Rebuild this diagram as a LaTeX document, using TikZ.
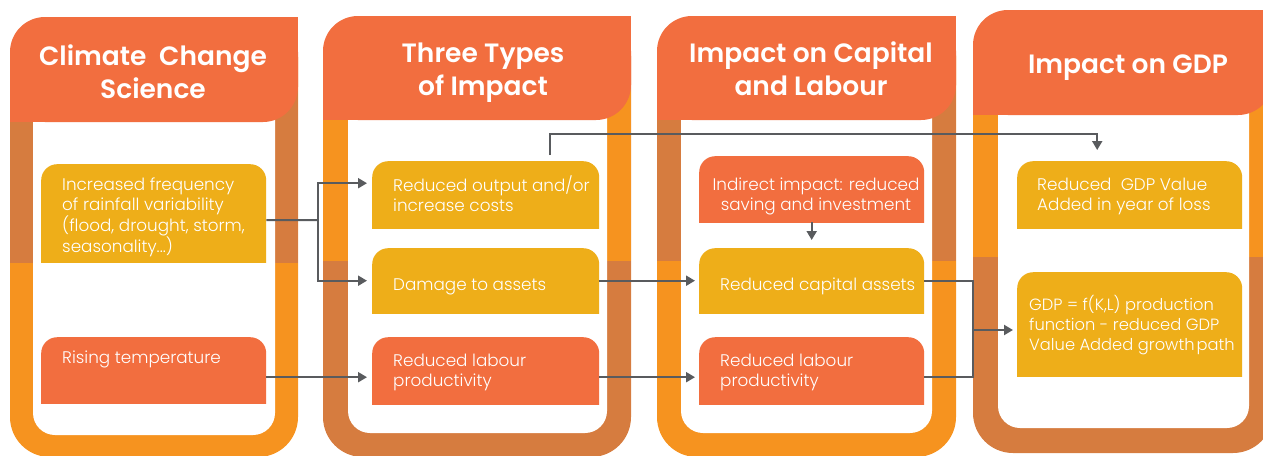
\documentclass[tikz,border=0pt]{standalone}
\usepackage{fontspec}
\setmainfont{Poppins}
\newfontfamily\bodyfont{Poppins Light}
\newfontfamily\headfont{Poppins SemiBold}
\usetikzlibrary{arrows.meta}
\definecolor{hdr}{HTML}{F26E3F}
\definecolor{fdark}{HTML}{D67C3F}
\definecolor{forange}{HTML}{F6931F}
\definecolor{byel}{HTML}{EEAE19}
\definecolor{lgray}{HTML}{595B5E}
\newcommand\tl{\rule{0pt}{15pt}}
\newcommand\hl{\rule{0pt}{25pt}}
\tikzset{
  boxy/.style={rectangle, inner sep=0pt, anchor=north west,
    path picture={\fill[#1, rounded corners=16pt] (path picture bounding box.north west) rectangle ([yshift=-20pt]path picture bounding box.south east);}},
  txt/.style={anchor=north west, inner sep=0pt, align=left, text=white,
    font=\bodyfont\fontsize{16.8}{20}\selectfont},
  htxt/.style={anchor=north, inner sep=0pt, align=center, text=white,
    font=\headfont\fontsize{26.5}{33}\selectfont},
  conn/.style={draw=lgray, line width=2pt},
  arr/.style={conn, -{Triangle[length=9pt,width=10pt]}}
}
\begin{document}
\begin{tikzpicture}[x=1pt,y=-1pt]
\useasboundingbox (0,0) rectangle (1263,455);
\clip (0,0) rectangle (1263,455);
% panels
\foreach \L/\R/\iL/\iR/\T/\HB/\IB/\OB/\S/\ct/\cb in {
  10/298/33/275/17/122/435/457/263/fdark/forange,
  323/631/348/607/16/120/433/457/261/forange/fdark,
  657/956/681/932/16/120/433/457/261/fdark/forange,
  973/1273/998/1249/10/115/428/453/257/forange/fdark}{
  \fill[\cb, rounded corners=40pt] (\L,\T) rectangle (\R,\OB);
  \fill[\ct] (\L,\T+40) rectangle (\R,\S);
  \fill[white, rounded corners=22pt] (\iL,\HB-30) rectangle (\iR,\IB);
  \fill[hdr, rounded corners=35pt] (\L,\T) rectangle (\R,\HB);
  \fill[hdr] (\R-40,\T) rectangle (\R,\T+40);
  \fill[hdr] (\L,\HB-40) rectangle (\L+40,\HB);
}
% headers
\node[htxt] (h1) at (153,40) {\hl Climate\ \ Change\\Science};
\node[htxt] (h2) at (483,37) {\hl Three Types\\of Impact};
\node[htxt] (h3) at (811,37) {\hl Impact on Capital\\and Labour};
\node[htxt] (h4) at (1128,48) {\hl Impact on GDP};
% boxes
\node[boxy=byel, minimum width=225pt, minimum height=98pt] (p1b1) at (41,164) {};
\node[boxy=hdr,  minimum width=225pt, minimum height=66pt] (p1b2) at (41,337) {};
\node[boxy=byel, minimum width=227pt, minimum height=67pt] (p2b1) at (372,161) {};
\node[boxy=byel, minimum width=227pt, minimum height=65pt] (p2b2) at (372,248) {};
\node[boxy=hdr,  minimum width=227pt, minimum height=67pt] (p2b3) at (372,337) {};
\node[boxy=hdr,  minimum width=225pt, minimum height=66pt] (p3b1) at (699,156) {};
\node[boxy=byel, minimum width=225pt, minimum height=65pt] (p3b2) at (699,248) {};
\node[boxy=hdr,  minimum width=225pt, minimum height=67pt] (p3b3) at (699,337) {};
\node[boxy=byel, minimum width=225pt, minimum height=67pt] (p4b1) at (1017,161) {};
\node[boxy=byel, minimum width=225pt, minimum height=104pt] (p4b2) at (1017,272) {};
% texts
\node[txt] (t11) at (62,175) {\tl Increased frequency\\of rainfall variability\\(flood, drought, storm,\\seasonality...)};
\node[txt] (t12) at (62,348) {\tl Rising temperature};
\node[txt] (t21) at (393,176) {\tl Reduced output and/or\\increase costs};
\node[txt] (t22) at (393,275) {\tl Damage to assets};
\node[txt] (t23) at (393,351) {\tl Reduced labour\\productivity};
\node[txt, anchor=north, align=center] (t31) at (816,175) {\tl Indirect impact: reduced\\saving and investment};
\node[txt] (t32) at (720,275) {\tl Reduced capital assets};
\node[txt] (t33) at (720,351) {\tl Reduced labour\\productivity};
\node[txt] (t41) at (1037,175) {\tl Reduced\ \ GDP Value\\Added in year of loss};
\node[txt, font=\bodyfont\fontsize{16.3}{20}\selectfont] (t42) at (1029,295) {\tl GDP = f(K,L) production\\function - reduced GDP\\Value Added growth\hspace{2pt}path};
% connectors
\coordinate (j1) at (318,220);
\draw[conn] ([yshift=-7pt]p1b1.east) -- (j1);
\draw[arr, shorten >=5pt] (j1) |- ([yshift=11.5pt]p2b1.west);
\draw[arr, shorten >=5pt] (j1) |- (p2b2.west);
\draw[arr, shorten >=5pt] ([yshift=-7pt]p1b2.east) -- ([yshift=-6.5pt]p2b3.west);
\draw[arr, shorten >=4pt] (p2b2.east) -- (p3b2.west);
\draw[arr, shorten >=4pt] ([yshift=-6.5pt]p2b3.east) -- ([yshift=-6.5pt]p3b3.west);
\draw[arr, shorten >=8pt] (p3b1.south) -- (p3b2.north);
\draw[arr, shorten >=11pt] ([xshift=64.5pt,yshift=6pt]p2b1.north) -- ++(0,-21) -| ([xshift=-32.5pt]p4b1.north);
\coordinate (j3) at (973,330);
\draw[conn] (p3b2.east) -| (j3) |- ([yshift=-6.5pt]p3b3.east);
\draw[arr, shorten >=4pt] (j3) -- (j3 -| p4b2.west);
\end{tikzpicture}
\end{document}
